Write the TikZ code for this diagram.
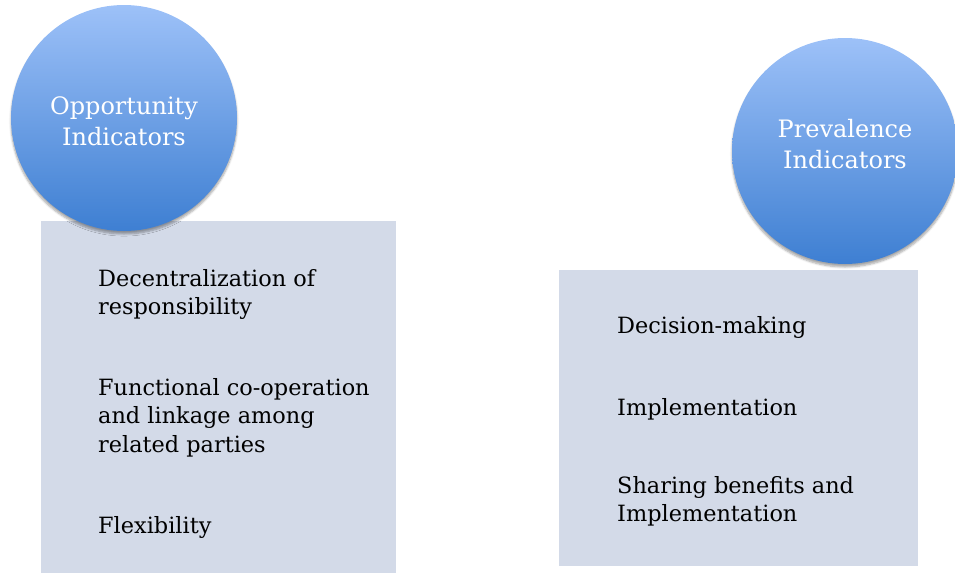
\documentclass[tikz,border=0pt]{standalone}
\usepackage{fontspec}
\setmainfont{DejaVu Serif}
\usetikzlibrary{positioning,shadows.blur}

\definecolor{ballTop}{HTML}{9DC1F8}
\definecolor{ballBot}{HTML}{3E7FD2}
\definecolor{boxFill}{HTML}{D3DAE8}

\tikzset{
    ball/.style={circle, minimum size=226pt, inner sep=0pt, top color=ballTop, bottom color=ballBot,
        blur shadow={shadow xshift=0pt, shadow yshift=-3pt, shadow blur steps=6, shadow opacity=35}},
    balltext/.style={text=white, align=center, inner sep=0pt, font=\fontsize{24}{31}\selectfont},
    panel/.style={fill=boxFill},
    item/.style={anchor=north west, align=left, inner sep=0pt, font=\fontsize{22.4}{28.5}\selectfont}
}

\begin{document}
\begin{tikzpicture}[x=1pt,y=-1pt]
    \useasboundingbox (0,0) rectangle (955,573);

    % the two panels
    \path[panel] (41,221) rectangle (396,573);
    \path[panel] (559,270) rectangle (918,566);

    % circles on top
    \node[ball] at (124,118) (opp) {};
    \node[balltext] at ([yshift=-3pt]opp.center) (oppt) {Opportunity\\Indicators};
    \node[ball] at (845,151) (prev) {};
    \node[balltext] at ([yshift=7pt]prev.center) (prevt) {Prevalence\\Indicators};

    % left list (tops = baseline - 17)
    \node[item] at (98,269) (decent) {Decentralization of\\responsibility};
    \node[item] at (98,378) (func) {Functional co-operation\\and linkage among\\related parties};
    \node[item] at (98,516) (flex) {Flexibility};

    % right list
    \node[item] at (617,316) (decis) {Decision-making};
    \node[item] at (617,398) (impl) {Implementation};
    \node[item] at (617,476) (share) {Sharing benefits and\\Implementation};

\end{tikzpicture}
\end{document}
